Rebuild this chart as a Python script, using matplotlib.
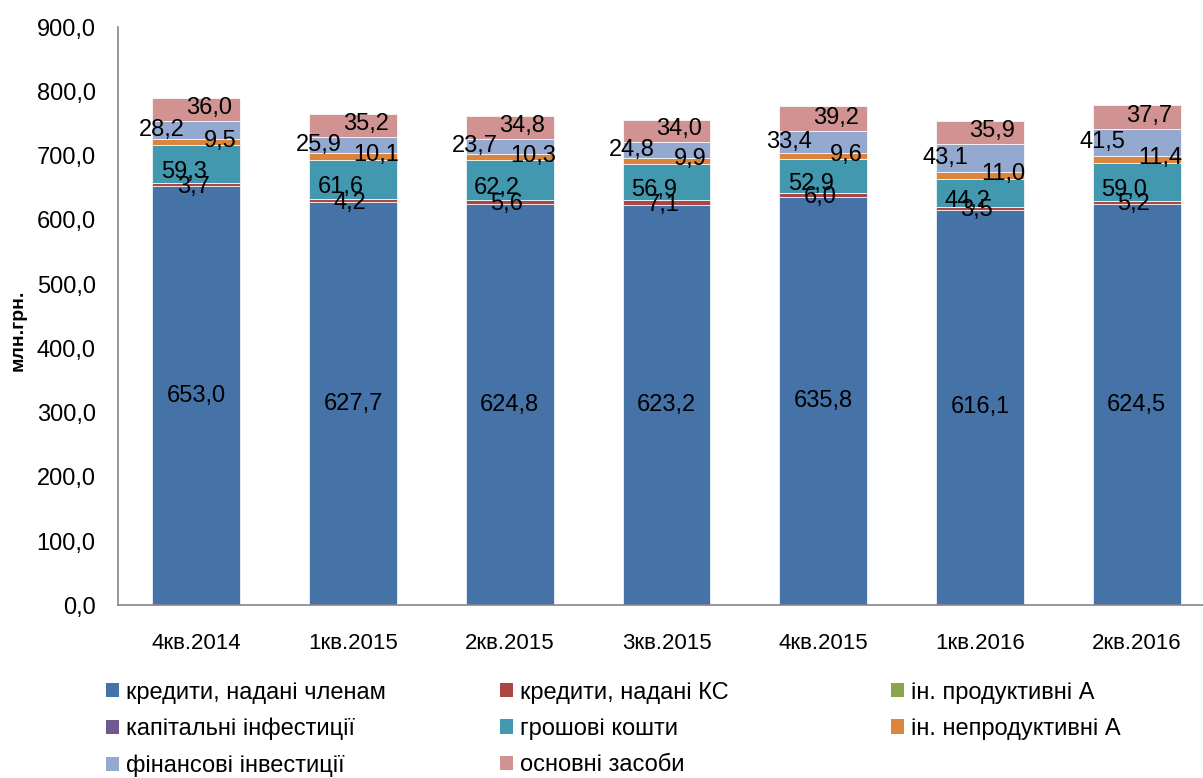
import numpy as np
import matplotlib
matplotlib.use("Agg")
import matplotlib.pyplot as plt
from matplotlib.patches import Patch

# дані (млн.грн.)
quarters = ['4кв.2014', '1кв.2015', '2кв.2015', '3кв.2015', '4кв.2015', '1кв.2016', '2кв.2016']
credits_members = [653.0, 627.7, 624.8, 623.2, 635.8, 616.1, 624.5]
credits_ks = [3.7, 4.2, 5.6, 7.1, 6.0, 3.5, 5.2]
other_productive = [0.0, 0.0, 0.0, 0.0, 0.0, 0.0, 0.0]
capital_inv = [0.0, 0.0, 0.0, 0.0, 0.0, 0.0, 0.0]
cash = [59.3, 61.6, 62.2, 56.9, 52.9, 44.2, 59.0]
other_nonproductive = [9.5, 10.1, 10.3, 9.9, 9.6, 11.0, 11.4]
fin_inv = [28.2, 25.9, 23.7, 24.8, 33.4, 43.1, 41.5]
fixed_assets = [36.0, 35.2, 34.8, 34.0, 39.2, 35.9, 37.7]

series = [
    ('кредити, надані членам', credits_members, '#4572A7'),
    ('кредити, надані КС', credits_ks, '#AA4643'),
    ('ін. продуктивні А', other_productive, '#89A54E'),
    ('капітальні інфестиції', capital_inv, '#71588F'),
    ('грошові кошти', cash, '#4198AF'),
    ('ін. непродуктивні А', other_nonproductive, '#DB843D'),
    ('фінансові інвестиції', fin_inv, '#93A9CF'),
    ('основні засоби', fixed_assets, '#D19392'),
]
# зсув підписів (x у одиницях категорій, y у млн.грн.)
label_shift = {0: (0, 0), 1: (-0.02, -3), 4: (-0.08, -12), 5: (0.15, 2), 6: (-0.22, 0), 7: (0.08, 2)}

plt.rcParams['font.family'] = ['Liberation Sans', 'DejaVu Sans']

fig = plt.figure(figsize=(12.03, 7.78), dpi=100)
ax = fig.add_axes([0.098, 0.222, 0.912, 0.743])

x = np.arange(len(quarters))
bottom = np.zeros(len(quarters))
for i, (name, vals, col) in enumerate(series):
    vals = np.array(vals)
    ax.bar(x, vals, width=0.56, bottom=bottom, color=col, edgecolor='white', linewidth=0.5, zorder=2)
    if i in label_shift:
        dx, dy = label_shift[i]
        for xi, b, v in zip(x, bottom, vals):
            ax.text(xi + dx, b + v / 2 + dy, f'{v:.1f}'.replace('.', ','),
                    ha='center', va='center', fontsize=17, color='black', zorder=4)
    bottom += vals

ax.set_xlim(-0.5, 6.5)
ax.set_ylim(0, 900)
ax.set_yticks(np.arange(0, 901, 100))
ax.set_yticklabels([f'{v:.1f}'.replace('.', ',') for v in np.arange(0, 901, 100)], fontsize=17)
ax.set_xticks(x)
ax.set_xticklabels(quarters, fontsize=16)
ax.tick_params(axis='both', length=0)
ax.tick_params(axis='x', pad=20)
ax.tick_params(axis='y', pad=16)
ax.set_ylabel('млн.грн.', fontsize=14, fontweight='bold')
ax.yaxis.set_label_coords(-0.083, 0.476)
for s in ['top', 'right']:
    ax.spines[s].set_visible(False)
for s in ['left', 'bottom']:
    ax.spines[s].set_color('#868686')
    ax.spines[s].set_linewidth(1.2)

# легенда: три колонки, рядки як у Excel
handles = [Patch(facecolor=c, label=n) for n, _, c in series]
columns = [[0, 3, 6], [1, 4, 7], [2, 5]]
col_x = [0.080, 0.408, 0.733]
for cx, idx in zip(col_x, columns):
    fig.legend([handles[k] for k in idx], [series[k][0] for k in idx],
               loc='upper left', bbox_to_anchor=(cx, 0.136), frameon=False,
               fontsize=17, handlelength=0.55, handleheight=0.55, handletextpad=0.3,
               labelspacing=0.6, borderaxespad=0)

fig.savefig('out.png', dpi=100)
